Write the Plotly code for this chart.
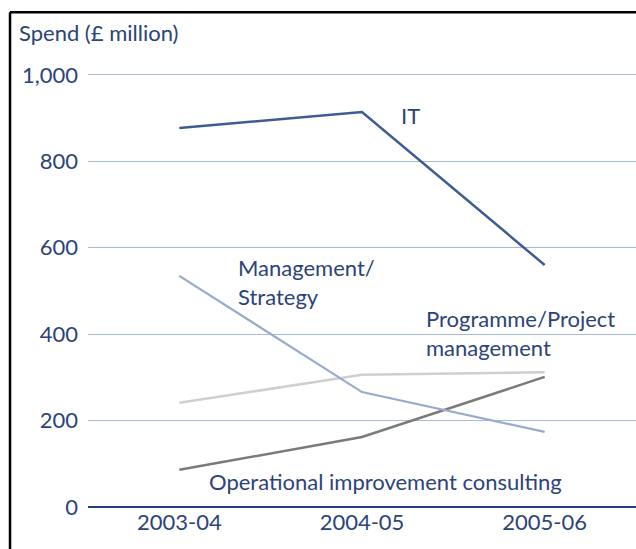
import plotly.graph_objects as go

# Consultancy spend by category, £ million
years = ["2003-04", "2004-05", "2005-06"]
it_spend = [877, 914, 560]
management_strategy = [535, 266, 174]
programme_project = [241, 306, 312]
operational_improvement = [86, 162, 301]

y_ticks = [0, 200, 400, 600, 800, 1000]
y_tick_text = ["0", "200", "400", "600", "800", "1,000"]

NAVY = "#2c4379"
FONT = "Lato"
SIZE = 22

xs = list(range(len(years)))

fig = go.Figure()

series = [
    (programme_project, "#cfcfcf", 2.5),
    (operational_improvement, "#7a7a7a", 2.5),
    (management_strategy, "#97abcf", 2.2),
    (it_spend, "#3d5b94", 2.5),
]
for values, colour, width in series:
    fig.add_trace(go.Scatter(
        x=xs, y=values, mode="lines",
        line=dict(color=colour, width=width),
        hoverinfo="skip", showlegend=False,
    ))

labels = [
    ("IT", 1.2, 907),
    ("Management/<br>Strategy", 0.31, 521),
    ("Programme/Project<br>management", 1.34, 403),
    ("Operational improvement consulting", 0.15, 60),
]
for text, lx, ly in labels:
    fig.add_annotation(
        x=lx, y=ly, text=text, showarrow=False,
        xanchor="left", yanchor="middle", align="left",
        font=dict(family=FONT, size=SIZE, color=NAVY),
    )

# Axis title above the value labels
fig.add_annotation(
    xref="paper", yref="paper", x=-0.13, y=1.089,
    text="Spend (£ million)", showarrow=False,
    xanchor="left", yanchor="middle",
    font=dict(family=FONT, size=SIZE, color=NAVY),
)

# Frame along the top and left edges
fig.add_shape(type="line", xref="paper", yref="paper",
              x0=-0.1423, x1=1.05, y0=1.135, y1=1.135,
              line=dict(color="black", width=2.5))
fig.add_shape(type="line", xref="paper", yref="paper",
              x0=-0.1423, x1=-0.1423, y0=1.135, y1=-0.12,
              line=dict(color="black", width=2.5))

fig.update_layout(
    width=636, height=549,
    margin=dict(l=88, r=0, t=71, b=42),
    paper_bgcolor="white", plot_bgcolor="white",
    font=dict(family=FONT, size=SIZE, color=NAVY),
    xaxis=dict(
        range=[-0.5, 2.5], tickmode="array", tickvals=xs, ticktext=years,
        showgrid=False, zeroline=False, showline=False, ticks="",
        tickfont=dict(family=FONT, size=SIZE, color=NAVY),
    ),
    yaxis=dict(
        range=[0, 1009], tickmode="array", tickvals=y_ticks, ticktext=y_tick_text,
        showgrid=True, gridcolor="#a9bad6", gridwidth=1.2,
        zeroline=True, zerolinecolor="#23407e", zerolinewidth=2,
        showline=False, ticks="", ticklabelstandoff=9,
        tickfont=dict(family=FONT, size=SIZE, color=NAVY),
    ),
)

fig.write_html("out.html")
